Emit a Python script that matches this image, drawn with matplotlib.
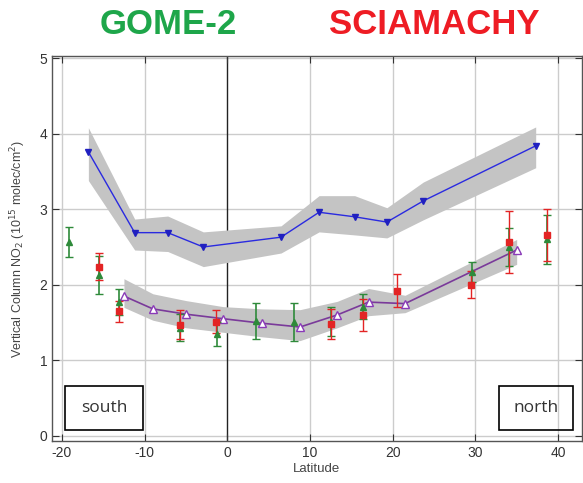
import matplotlib
matplotlib.use("Agg")
import matplotlib.pyplot as plt
from matplotlib.patches import Rectangle

# Blue series (downward triangles) with gray band
blue_lat = [-16.8, -11.2, -7.2, -2.9, 6.5, 11.1, 15.4, 19.3, 23.7, 37.3]
blue_val = [3.76, 2.69, 2.69, 2.50, 2.63, 2.96, 2.90, 2.83, 3.11, 3.84]
blue_up = [4.08, 2.87, 2.91, 2.70, 2.78, 3.18, 3.18, 3.02, 3.36, 4.09]
blue_lo = [3.38, 2.46, 2.44, 2.24, 2.42, 2.70, 2.66, 2.62, 2.86, 3.55]

# Purple series (open triangles) with gray band
purp_lat = [-12.5, -9.0, -5.0, -0.5, 4.2, 8.8, 13.3, 17.1, 21.5, 35.0]
purp_val = [1.85, 1.68, 1.61, 1.55, 1.49, 1.44, 1.60, 1.77, 1.75, 2.46]
purp_up = [2.08, 1.88, 1.79, 1.71, 1.68, 1.67, 1.78, 1.95, 1.86, 2.60]
purp_lo = [1.70, 1.53, 1.43, 1.37, 1.31, 1.26, 1.43, 1.59, 1.63, 2.27]

# GOME-2 observations
gome_lat = [-19.1, -15.5, -13.1, -5.7, -1.2, 3.5, 8.1, 12.5, 16.4, 29.6, 34.1, 38.7]
gome_val = [2.57, 2.13, 1.77, 1.43, 1.35, 1.52, 1.51, 1.51, 1.71, 2.17, 2.50, 2.60]
gome_err = [0.20, 0.25, 0.17, 0.18, 0.16, 0.24, 0.25, 0.19, 0.17, 0.13, 0.25, 0.32]

# SCIAMACHY observations
scia_lat = [-15.5, -13.1, -5.7, -1.4, 12.5, 16.4, 20.5, 29.5, 34.1, 38.7]
scia_val = [2.24, 1.65, 1.47, 1.51, 1.48, 1.60, 1.92, 2.00, 2.57, 2.66]
scia_err = [0.18, 0.14, 0.19, 0.15, 0.20, 0.21, 0.22, 0.18, 0.41, 0.34]

xticks = [-20, -10, 0, 10, 20, 30, 40]
yticks = [0, 1, 2, 3, 4, 5]

plt.rcParams['font.family'] = ['Liberation Sans', 'DejaVu Sans']
plt.rcParams['axes.unicode_minus'] = False

fig = plt.figure(figsize=(5.83, 4.83), dpi=100)
ax = fig.add_axes([52/583, 42/483, 530/583, 385/483])

ax.set_xlim(-21.2, 42.9)
ax.set_ylim(-0.07, 5.03)

for x in xticks:
    if x == 0:
        ax.axvline(x, color='#222222', lw=1.0, zorder=1)
    else:
        ax.axvline(x, color='#cccccc', lw=1.0, zorder=0)
for y in yticks:
    ax.axhline(y, color='#cccccc', lw=1.0, zorder=0)

ax.fill_between(blue_lat, blue_lo, blue_up, color='#c4c4c4', lw=0, zorder=2)
ax.fill_between(purp_lat, purp_lo, purp_up, color='#c4c4c4', lw=0, zorder=2)

ax.plot(blue_lat, blue_val, color='#2a2ae0', lw=1.0, marker='v', ms=4.5,
        mfc='#2020c0', mec='#2020c0', zorder=3)
ax.plot(purp_lat, purp_val, color='#7a3a9a', lw=1.2, marker='^', ms=5.5,
        mfc='white', mec='#8a3ab8', mew=1.0, zorder=3)

ax.errorbar(gome_lat, gome_val, yerr=gome_err, fmt='^', color='#2e8a3a',
            ms=4.5, capsize=3, elinewidth=1.2, capthick=1.0, zorder=4)
ax.errorbar(scia_lat, scia_val, yerr=scia_err, fmt='s', color='#e32424',
            ms=4.5, capsize=3, elinewidth=1.0, capthick=1.0, zorder=4)

ax.set_xticks(xticks)
ax.set_yticks(yticks)
ax.tick_params(direction='in', length=5, labelsize=10, colors='#333333',
               top=True, right=True, labelcolor='#333333')
for s in ax.spines.values():
    s.set_color('#555555')
    s.set_linewidth(1.0)

ax.set_xlabel('Latitude', fontsize=9.5, color='#444444', labelpad=2)
ax.set_ylabel('Vertical Column NO$_2$ (10$^{15}$ molec/cm$^2$)', fontsize=9,
              color='#444444', labelpad=8)

ax.add_patch(Rectangle((-19.6, 0.08), 9.4, 0.58, fill=False, ec='black',
                       lw=1.2, zorder=5))
ax.text(-14.9, 0.37, 'south', ha='center', va='center', fontsize=12.5,
        family=['Open Sans', 'DejaVu Sans'], color='#333333', zorder=6)
ax.add_patch(Rectangle((32.9, 0.08), 8.9, 0.58, fill=False, ec='black',
                       lw=1.2, zorder=5))
ax.text(37.35, 0.37, 'north', ha='center', va='center', fontsize=12.5,
        family=['Open Sans', 'DejaVu Sans'], color='#333333', zorder=6)

fig.text(168/583, 1 - 24/483, 'GOME-2', ha='center', va='center',
         fontsize=25, fontweight='bold', color='#1ea64a')
fig.text(434/583, 1 - 24/483, 'SCIAMACHY', ha='center', va='center',
         fontsize=25, fontweight='bold', color='#ee1c24')

fig.savefig('out.png', dpi=100)
